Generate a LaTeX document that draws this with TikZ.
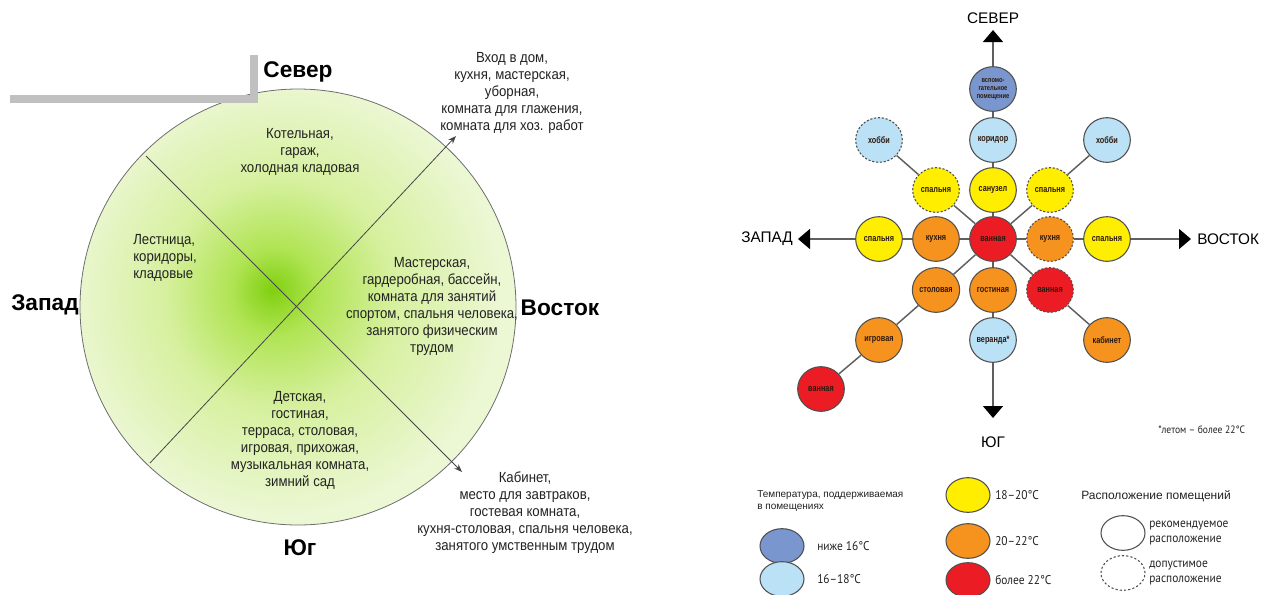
\documentclass[tikz,border=0pt]{standalone}
\usepackage{fontspec}
\setmainfont{Liberation Sans}
\newfontfamily\narrowfont{Liberation Sans}[FakeStretch=0.9]
\newfontfamily\roomfontfam{Liberation Sans}[FakeStretch=0.78]
\newfontfamily\keyfont{PT Sans}[FakeStretch=0.9]
\usetikzlibrary{shapes.geometric,arrows.meta}

\definecolor{glowA}{RGB}{128,208,16}
\definecolor{glowB}{RGB}{176,228,84}
\definecolor{glowC}{RGB}{214,240,158}
\definecolor{glowD}{RGB}{236,247,212}
\definecolor{rimgray}{RGB}{110,110,110}
\definecolor{crossgray}{RGB}{70,70,70}
\definecolor{wallgray}{RGB}{192,192,192}
\definecolor{txtdark}{RGB}{34,34,34}
\definecolor{edgegray}{RGB}{80,80,80}
\definecolor{linkgray}{RGB}{95,95,95}
\definecolor{auxblue}{RGB}{122,150,206}
\definecolor{coolblue}{RGB}{186,225,245}
\definecolor{warmyellow}{RGB}{255,238,0}
\definecolor{warmorange}{RGB}{246,146,30}
\definecolor{hotred}{RGB}{236,28,36}
\definecolor{roomtxt}{RGB}{45,25,15}

\pgfdeclareradialshading{glow}{\pgfpoint{-3bp}{2bp}}{color(0bp)=(glowA);color(5bp)=(glowB);color(13bp)=(glowC);color(25bp)=(glowD);color(50bp)=(glowD)}

\begin{document}
\begin{tikzpicture}[x=0.75pt,y=0.75pt,yscale=-1,xscale=1,
	sector/.style={align=center,inner sep=0.75pt,text=txtdark,font=\narrowfont\fontsize{11}{12.75}\selectfont},
	side/.style={inner sep=0.75pt,text=black,font=\bfseries\fontsize{17}{20}\selectfont},
	room/.style={ellipse,draw=edgegray,line width=0.8pt,minimum width=35pt,minimum height=33.5pt,inner sep=0pt,text=roomtxt,font=\roomfontfam\bfseries\fontsize{7}{7.5}\selectfont},
	maybe/.style={room,dash pattern=on 1.6pt off 1.3pt},
	link/.style={draw=linkgray,line width=1.1pt},
	axis/.style={link,-{Triangle[width=15pt,length=9pt,color=black]}},
	point/.style={inner sep=0.75pt,font=\fontsize{11.5}{14}\selectfont},
	key/.style={ellipse,draw=edgegray,line width=0.8pt,minimum width=33pt,minimum height=26pt,inner sep=0pt},
	keytext/.style={anchor=west,align=left,inner sep=0.75pt,text=txtdark,font=\keyfont\fontsize{9.5}{11}\selectfont}]

	\useasboundingbox (0,0) rectangle (1264,594);

	%Shape: Circle
	\shade[shading=glow] (298,307) circle (218);
	\draw[rimgray,line width=0.6pt] (298,307) circle (218);
	%Shape: L wall
	\draw[wallgray,line width=6pt] (10,99) -- (254,99) -- (254,55);

	%Straight Lines
	\coordinate (nwEnd) at (146,156);
	\coordinate (swEnd) at (150,463);
	\coordinate (neTip) at (456,136);
	\coordinate (seTip) at (462,472);
	\draw[crossgray,line width=0.6pt,-{Stealth[length=6pt,width=4.5pt]}] (nwEnd) -- (seTip);
	\draw[crossgray,line width=0.6pt,-{Stealth[length=6pt,width=4.5pt]}] (swEnd) -- (neTip);

	% Text Node
	\node[side] (sever) at (298,72) {Север};
	\node[side] (zapad) at (45,305) {Запад};
	\node[side] (vostok) at (560,308) {Восток};
	\node[side] (yug) at (300,548) {Юг};

	% Text Node
	\node[sector] (boiler) at (300,152) {Котельная,\\гараж,\\холодная кладовая};
	\node[sector,align=left,anchor=north west] (stairs) at (132,233) {Лестница,\\коридоры,\\кладовые};
	\node[sector] (workshop) at (432,306) {Мастерская,\\гардеробная, бассейн,\\комната для занятий\\спортом, спальня человека,\\занятого физическим\\трудом};
	\node[sector] (nursery) at (300,440) {Детская,\\гостиная,\\терраса, столовая,\\игровая, прихожая,\\музыкальная комната,\\зимний сад};
	\node[sector,anchor=south] (entry) at (512,135) {Вход в дом,\\кухня, мастерская,\\уборная,\\комната для глажения,\\комната для хоз. работ};
	\node[sector,anchor=north] (study) at (525,470) {Кабинет,\\место для завтраков,\\гостевая комната,\\кухня-столовая, спальня человека,\\занятого умственным трудом};

	%Rooms
	\node[room,fill=auxblue,font=\roomfontfam\bfseries\fontsize{5.5}{6}\selectfont,align=center] (aux) at (993,89) {вспомо-\\гательное\\помещение};
	\node[maybe,fill=coolblue] (hobbyW) at (879,140) {хобби};
	\node[room,fill=coolblue] (hall) at (993,140) {коридор};
	\node[room,fill=coolblue] (hobbyE) at (1107,140) {хобби};
	\node[maybe,fill=warmyellow] (bedNW) at (936,190) {спальня};
	\node[room,fill=warmyellow] (wc) at (993,190) {санузел};
	\node[maybe,fill=warmyellow] (bedNE) at (1050,190) {спальня};
	\node[room,fill=warmyellow] (bedW) at (879,239) {спальня};
	\node[room,fill=warmorange] (kitW) at (936,239) {кухня};
	\node[room,fill=hotred] (bath) at (993,239) {ванная};
	\node[maybe,fill=warmorange] (kitE) at (1050,239) {кухня};
	\node[room,fill=warmyellow] (bedE) at (1107,239) {спальня};
	\node[room,fill=warmorange] (dining) at (936,290) {столовая};
	\node[room,fill=warmorange] (living) at (993,290) {гостиная};
	\node[maybe,fill=hotred] (bathSE) at (1050,290) {ванная};
	\node[room,fill=warmorange] (play) at (879,340) {игровая};
	\node[room,fill=coolblue] (veranda) at (993,340) {веранда*};
	\node[room,fill=warmorange] (office) at (1107,340) {кабинет};
	\node[room,fill=hotred] (bathSW) at (821,389) {ванная};

	%Links
	\coordinate (nTip) at (993,30);
	\coordinate (wTip) at (798,239);
	\coordinate (eTip) at (1191,239);
	\coordinate (sTip) at (993,418);
	\draw[axis] (aux) -- (nTip);
	\draw[axis] (bedW) -- (wTip);
	\draw[axis] (bedE) -- (eTip);
	\draw[axis] (veranda) -- (sTip);
	\draw[link] (aux) -- (hall) -- (wc) -- (bath) -- (living) -- (veranda);
	\draw[link] (bedW) -- (kitW) -- (bath) -- (kitE) -- (bedE);
	\draw[link] (hobbyW) -- (bedNW) -- (bath) -- (bathSE) -- (office);
	\draw[link] (hobbyE) -- (bedNE) -- (bath) -- (dining) -- (play) -- (bathSW);

	% Text Node
	\node[point] (north) at (993,18) {СЕВЕР};
	\node[point,anchor=east] (west) at (794,239) {ЗАПАД};
	\node[point,anchor=west] (east) at (1196,239) {ВОСТОК};
	\node[point] (south) at (993,442) {ЮГ};
	\node[keytext,font=\keyfont\fontsize{8}{9}\selectfont] (summer) at (1157,430) {*летом – более 22°C};

	%Legend
	\node[keytext,font=\fontsize{7.5}{9.5}\selectfont,anchor=north west] (tempHead) at (756,489) {Температура, поддерживаемая\\в помещениях};
	\node[key,fill=auxblue] (keyAux) at (782,546) {};
	\node[keytext] (keyAuxTxt) at (816,546) {ниже 16°C};
	\node[key,fill=coolblue] (keyCool) at (782,579) {};
	\node[keytext] (keyCoolTxt) at (816,579) {16–18°C};
	\node[key,fill=warmyellow] (keyYel) at (968,495) {};
	\node[keytext] (keyYelTxt) at (994,495) {18–20°C};
	\node[key,fill=warmorange] (keyOra) at (968,541) {};
	\node[keytext] (keyOraTxt) at (994,541) {20–22°C};
	\node[key,fill=hotred] (keyRed) at (968,580) {};
	\node[keytext] (keyRedTxt) at (994,580) {более 22°C};
	\node[keytext,font=\fontsize{9}{10.5}\selectfont] (placeHead) at (1080,496) {Расположение помещений};
	\node[key,fill=white] (keyFirm) at (1123,533) {};
	\node[keytext] (keyFirmTxt) at (1148,533) {рекомендуемое\\расположение};
	\node[key,fill=white,dash pattern=on 1.6pt off 1.6pt] (keyLoose) at (1123,573) {};
	\node[keytext] (keyLooseTxt) at (1148,573) {допустимое\\расположение};
\end{tikzpicture}
\end{document}
